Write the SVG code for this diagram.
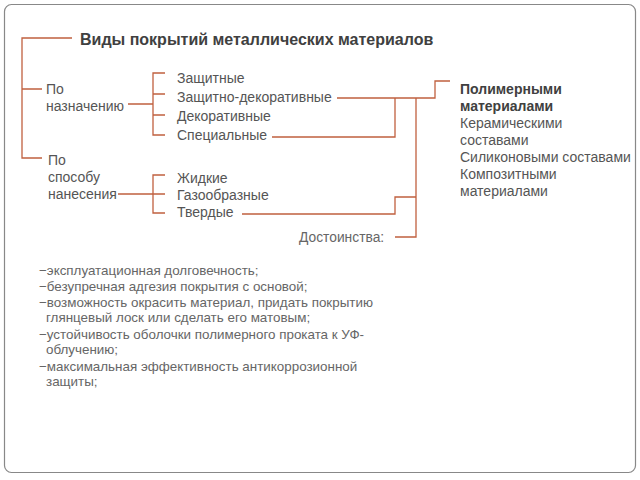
<svg xmlns="http://www.w3.org/2000/svg" width="640" height="480" viewBox="0 0 640 480">
<style>
.t{font-family:"Liberation Sans",Arial,sans-serif;fill:#555;font-size:14px}
.b{font-weight:bold;fill:#404040}
.l{font-family:"Liberation Sans",Arial,sans-serif;fill:#666;font-size:13.4px}
.c{fill:none;stroke:#c0603f;stroke-width:1.3}
</style>
<rect x="4.5" y="4.5" width="631" height="468" rx="7" fill="#fff" stroke="#888" stroke-width="1.2"/>
<g id="connectors">
<path class="c" d="M72,38 H22 V158 H42 M22,89 H42"/>
<path class="c" d="M128,104 H153 M165,73 H153 V135 H165 M153,94 H165 M153,115 H165"/>
<path class="c" d="M118,194 H153 M165,175 H153 V213 H165 M153,194 H165"/>
<path class="c" d="M337,98 H435 V81 H450 M272,137 H395 V98 M416,98 V237 H395 M242,214 H395 V197 H416"/>
</g>
<g id="title"><text class="t b" x="80" y="45" style="font-size:16px">Виды покрытий металлических материалов</text></g>
<g id="po-naznacheniyu"><text class="t" x="46" y="94">По</text><text class="t" x="46" y="111">назначению</text></g>
<g id="po-sposobu"><text class="t" x="48" y="165">По</text><text class="t" x="48" y="182">способу</text><text class="t" x="48" y="199">нанесения</text></g>
<g id="naznachenie-items">
<text class="t" x="177" y="83">Защитные</text>
<text class="t" x="177" y="102">Защитно-декоративные</text>
<text class="t" x="177" y="121">Декоративные</text>
<text class="t" x="177" y="140">Специальные</text>
</g>
<g id="sposob-items">
<text class="t" x="177" y="183">Жидкие</text>
<text class="t" x="177" y="200">Газообразные</text>
<text class="t" x="177" y="217">Твердые</text>
</g>
<g id="materials">
<text class="t b" x="460" y="94">Полимерными</text>
<text class="t b" x="460" y="111">материалами</text>
<text class="t" x="460" y="128">Керамическими</text>
<text class="t" x="460" y="145">составами</text>
<text class="t" x="460" y="162">Силиконовыми составами</text>
<text class="t" x="460" y="179">Композитными</text>
<text class="t" x="460" y="196">материалами</text>
</g>
<g id="dostoinstva"><text class="l" x="299" y="242" style="font-size:13.8px">Достоинства:</text></g>
<g id="list">
<text class="l" x="39" y="275">−эксплуатационная долговечность;</text>
<text class="l" x="39" y="291">−безупречная адгезия покрытия с основой;</text>
<text class="l" x="39" y="307">−возможность окрасить материал, придать покрытию</text>
<text class="l" x="46" y="322">глянцевый лоск или сделать его матовым;</text>
<text class="l" x="39" y="339">−устойчивость оболочки полимерного проката к УФ-</text>
<text class="l" x="46" y="354">облучению;</text>
<text class="l" x="39" y="371">−максимальная эффективность антикоррозионной</text>
<text class="l" x="46" y="386">защиты;</text>
</g>
</svg>
